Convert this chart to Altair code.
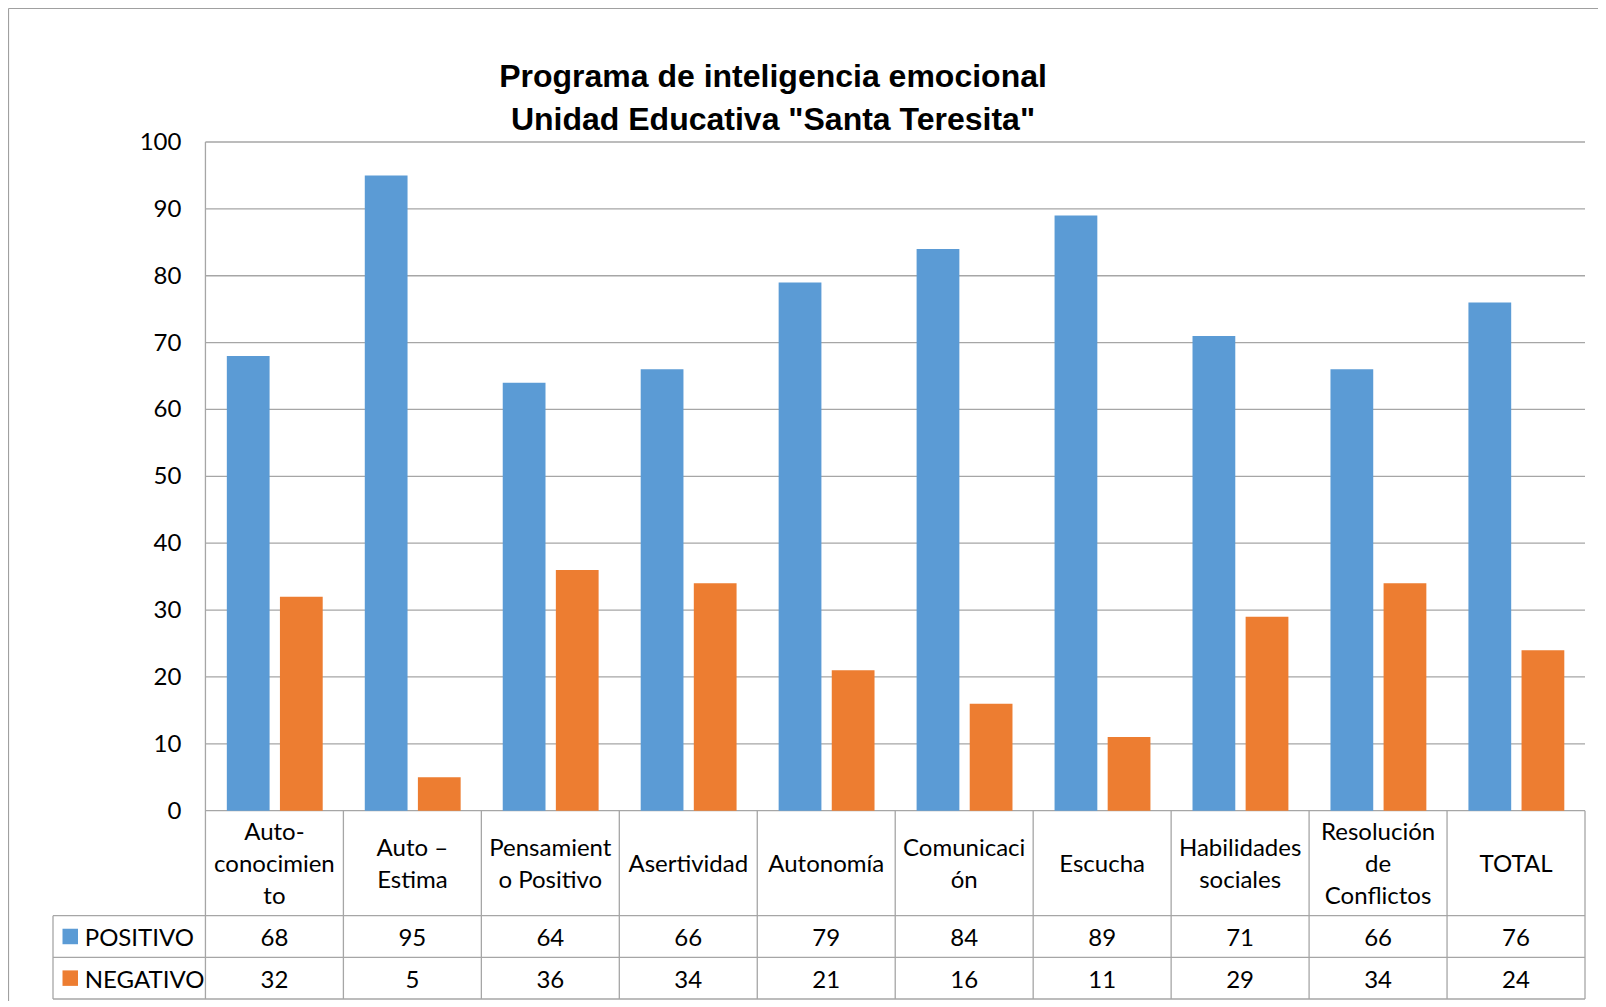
import altair as alt
import pandas as pd

# ---- data ----
categories = ["Auto-\nconocimien\nto", "Auto –\nEstima", "Pensamient\no Positivo",
              "Asertividad", "Autonomía", "Comunicaci\nón", "Escucha",
              "Habilidades\nsociales", "Resolución\nde\nConflictos", "TOTAL"]
positivo = [68, 95, 64, 66, 79, 84, 89, 71, 66, 76]
negativo = [32, 5, 36, 34, 21, 16, 11, 29, 34, 24]
series = ["POSITIVO", "NEGATIVO"]
colors = ["#5B9BD5", "#ED7D31"]
y_ticks = [0, 10, 20, 30, 40, 50, 60, 70, 80, 90, 100]
title_lines = ["Programa de inteligencia emocional", 'Unidad Educativa "Santa Teresita"']

# ---- layout (in data units of the shared scales) ----
N = len(categories)
LEFT = -1.105          # left edge of the legend column of the data table
ROW_HDR = -15.71       # bottom of category-name row
ROW_POS = -21.93       # bottom of POSITIVO row
ROW_NEG = -28.17       # bottom of NEGATIVO row
PX_PER_UNIT = 857 / (100 - ROW_NEG)
LINE_H = 32            # px line height of the category names
BAR_W = 0.31
BAR_START = 0.155
BAR_STEP = 0.385
GRID = "#a6a6a6"
FONT = "Lato"

xs = alt.Scale(domain=[LEFT, N], nice=False, zero=False)
ys = alt.Scale(domain=[ROW_NEG, 100], nice=False, zero=False)

# bars
rows = []
for i, c in enumerate(categories):
    for s, vals in enumerate([positivo, negativo]):
        x0 = i + BAR_START + s * BAR_STEP
        rows.append({"cat": c, "series": series[s], "value": vals[i],
                     "x0": x0, "x1": x0 + BAR_W, "base": 0})
bars_df = pd.DataFrame(rows)

# line segments (gridlines + table borders)
seg = []
for t in y_ticks[1:]:
    seg.append((0, N, t, t))
seg.append((0, N, 0, 0))
for yy in (ROW_HDR, ROW_POS, ROW_NEG):
    seg.append((LEFT, N, yy, yy))
seg.append((LEFT, LEFT, ROW_HDR, ROW_NEG))
seg.append((0, 0, 100, ROW_NEG))
for i in range(1, N + 1):
    seg.append((i, i, 0, ROW_NEG))
seg_df = pd.DataFrame(seg, columns=["x", "x2", "y", "y2"])

ylab_df = pd.DataFrame({"y": y_ticks, "x": [0] * len(y_ticks), "t": [str(v) for v in y_ticks]})
# first line position so that the block of lines is centred in the header row
hdr_y = [ROW_HDR / 2 + (c.count("\n")) * LINE_H / 2 / PX_PER_UNIT for c in categories]
hdr_df = pd.DataFrame({"x": [i + 0.5 for i in range(N)], "y": hdr_y, "t": categories})
val_rows = []
for s, vals in enumerate([positivo, negativo]):
    yc = (ROW_HDR + ROW_POS) / 2 if s == 0 else (ROW_POS + ROW_NEG) / 2
    for i, v in enumerate(vals):
        val_rows.append({"x": i + 0.5, "y": yc, "t": str(v)})
val_df = pd.DataFrame(val_rows)
leg_df = pd.DataFrame({"series": series,
                       "y": [(ROW_HDR + ROW_POS) / 2, (ROW_POS + ROW_NEG) / 2],
                       "xs": [-0.980, -0.980], "xt": [-0.875, -0.875]})

color = alt.Color("series:N", scale=alt.Scale(domain=series, range=colors), legend=None)

# outer chart-area border (decoration, in pixels relative to the plot origin)
frame_df = pd.DataFrame({"a": [0]})
frame_left = alt.Chart(frame_df).mark_rule(color="#a0a0a0", strokeWidth=1.2).encode(
    x=alt.value(-44.5), y=alt.value(-133.5), y2=alt.value(1100))
frame_top = alt.Chart(frame_df).mark_rule(color="#a0a0a0", strokeWidth=1.2).encode(
    x=alt.value(-44.5), x2=alt.value(1700), y=alt.value(-133.5), y2=alt.value(-133.5))

lines = alt.Chart(seg_df).mark_rule(color=GRID, strokeWidth=1.3).encode(
    x=alt.X("x:Q", scale=xs, axis=None), x2="x2:Q",
    y=alt.Y("y:Q", scale=ys, axis=None), y2="y2:Q")

bars = alt.Chart(bars_df).mark_bar().encode(
    x=alt.X("x0:Q", scale=xs, axis=None), x2="x1:Q",
    y=alt.Y("value:Q", scale=ys, axis=None), y2="base:Q",
    color=color)

ylabels = alt.Chart(ylab_df).mark_text(
    align="right", baseline="middle", dx=-24, dy=1, font=FONT, fontSize=24, color="black"
).encode(x=alt.X("x:Q", scale=xs, axis=None), y=alt.Y("y:Q", scale=ys, axis=None), text="t:N")

header = alt.Chart(hdr_df).mark_text(
    align="center", baseline="middle", lineBreak="\n", lineHeight=LINE_H, dy=2,
    font=FONT, fontSize=24, color="black"
).encode(x=alt.X("x:Q", scale=xs, axis=None), y=alt.Y("y:Q", scale=ys, axis=None), text="t:N")

values = alt.Chart(val_df).mark_text(
    align="center", baseline="middle", dy=3, font=FONT, fontSize=24, color="black"
).encode(x=alt.X("x:Q", scale=xs, axis=None), y=alt.Y("y:Q", scale=ys, axis=None), text="t:N")

leg_sq = alt.Chart(leg_df).mark_point(shape="square", filled=True, size=240, opacity=1).encode(
    x=alt.X("xs:Q", scale=xs, axis=None), y=alt.Y("y:Q", scale=ys, axis=None), color=color)

leg_tx = alt.Chart(leg_df).mark_text(
    align="left", baseline="middle", dy=3, font=FONT, fontSize=24, color="black"
).encode(x=alt.X("xt:Q", scale=xs, axis=None), y=alt.Y("y:Q", scale=ys, axis=None), text="series:N")

chart = alt.layer(frame_left, frame_top, lines, bars, ylabels, header, values, leg_sq, leg_tx).properties(
    width=1532, height=857,
    padding={"left": 45, "top": 134, "right": 13, "bottom": 2},
    autosize=alt.AutoSizeParams(type="none"),
    title=alt.TitleParams(text=title_lines, font="Liberation Sans", fontSize=32,
                          fontWeight="bold", color="black", anchor="middle",
                          frame="group", dx=-46, offset=-129.1, lineHeight=43),
).configure(background="white", view=alt.ViewConfig(stroke=None))

chart.save("out.html", embed_options={"renderer": "svg", "actions": False})
